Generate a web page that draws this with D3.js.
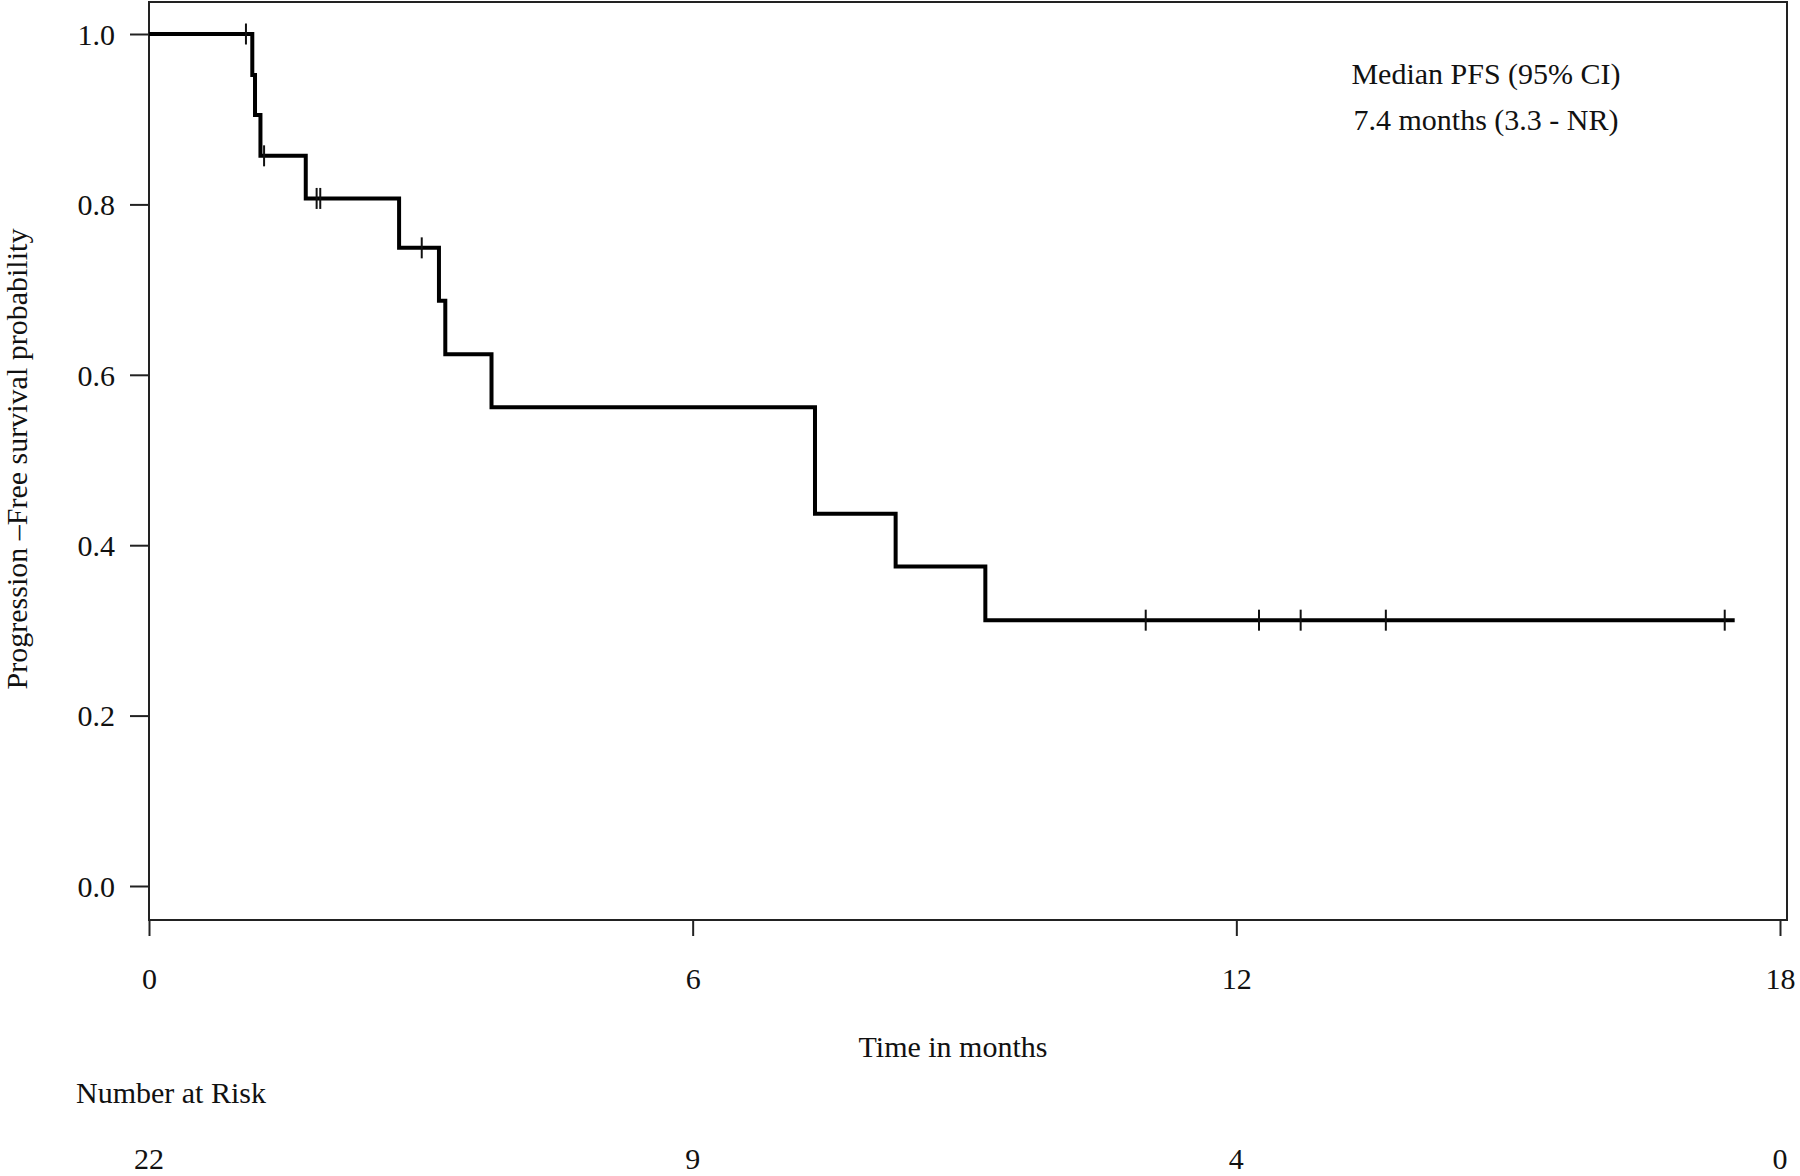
<!DOCTYPE html>
<html>
<head>
<meta charset="utf-8">
<script src="https://cdn.jsdelivr.net/npm/d3@7"></script>
<style>
  body { margin: 0; background: #fff; }
  text { font-family: "Liberation Serif", "Times New Roman", serif; fill: #111; }
</style>
</head>
<body>
<svg></svg>
<script>
const width = 1800
const height = 1176

// Kaplan-Meier steps (months, survival after the drop)
const eventTimes = [1.14, 1.17, 1.23, 1.73, 2.76, 3.20, 3.27, 3.78, 7.35, 8.24, 9.23]
const survival = [0.952, 0.905, 0.857, 0.807, 0.749, 0.687, 0.624, 0.562, 0.437, 0.375, 0.312]
const censorTimes = [1.07, 1.27, 1.85, 1.89, 3.01, 11.0, 12.25, 12.71, 13.65, 17.39]
const lastTime = 17.5

const xTicks = [0, 6, 12, 18]
const yTicks = [0, 0.2, 0.4, 0.6, 0.8, 1.0]
const riskTimes = [0, 6, 12, 18]
const atRisk = [22, 9, 4, 0]

const svg = d3.select("svg")
    .attr("width", width)
    .attr("height", height)

const xScale = d3.scaleLinear().domain([0, 18]).range([149, 1780])
const yScale = d3.scaleLinear().domain([0, 1]).range([886, 34])

// plot box
const box = { left: xScale(0), right: xScale(18) + 7, top: 2, bottom: 920 }
svg.append("rect")
    .attr("x", box.left)
    .attr("y", box.top)
    .attr("width", box.right - box.left)
    .attr("height", box.bottom - box.top)
    .attr("fill", "none")
    .attr("stroke", "#222")
    .attr("stroke-width", 2)

// y axis
const yAxisG = svg.append("g")
    .attr("transform", `translate(${box.left}, 0)`)
    .call(d3.axisLeft(yScale).tickValues(yTicks).tickFormat(d3.format(".1f")).tickSize(19).tickPadding(15))
yAxisG.select(".domain").remove()
yAxisG.selectAll(".tick line").attr("stroke", "#222").attr("stroke-width", 2)
yAxisG.selectAll(".tick text")
    .attr("font-size", "30px")
    .attr("font-family", "Liberation Serif")
    .attr("fill", "#111")
    .attr("dy", "0.34em")

// x axis
const xAxisG = svg.append("g")
    .attr("transform", `translate(0, ${box.bottom})`)
    .call(d3.axisBottom(xScale).tickValues(xTicks).tickSize(16))
xAxisG.select(".domain").remove()
xAxisG.selectAll(".tick line").attr("stroke", "#222").attr("stroke-width", 2)
xAxisG.selectAll(".tick text")
    .attr("font-size", "30px")
    .attr("font-family", "Liberation Serif")
    .attr("fill", "#111")
    .attr("dy", null)
    .attr("y", 69)

// curve
const points = [[0, 1]].concat(eventTimes.map((t, i) => [t, survival[i]]))
points.push([lastTime, survival[survival.length - 1]])

const line = d3.line()
    .x(d => xScale(d[0]))
    .y(d => yScale(d[1]))
    .curve(d3.curveStepAfter)

svg.append("path")
    .attr("d", line(points))
    .attr("fill", "none")
    .attr("stroke", "#000")
    .attr("stroke-width", 4)

// survival at time t (step function)
const survAt = t => {
    let s = 1
    eventTimes.forEach((e, i) => { if (e <= t) s = survival[i] })
    return s
}

svg.selectAll(".censor").data(censorTimes)
    .enter()
    .append("line")
    .attr("class", "censor")
    .attr("x1", d => xScale(d))
    .attr("x2", d => xScale(d))
    .attr("y1", d => yScale(survAt(d)) - 10.5)
    .attr("y2", d => yScale(survAt(d)) + 10.5)
    .attr("stroke", "#111")
    .attr("stroke-width", 2)

// labels
svg.append("text")
    .attr("transform", "translate(27, 459) rotate(-90)")
    .attr("text-anchor", "middle")
    .attr("font-size", "30px")
    .text("Progression \u2013Free survival probability")

svg.append("text")
    .attr("x", 953)
    .attr("y", 1057)
    .attr("text-anchor", "middle")
    .attr("font-size", "30px")
    .text("Time in months")

svg.append("text")
    .attr("x", 1486)
    .attr("y", 84)
    .attr("text-anchor", "middle")
    .attr("font-size", "30px")
    .text("Median PFS (95% CI)")

svg.append("text")
    .attr("x", 1486)
    .attr("y", 130)
    .attr("text-anchor", "middle")
    .attr("font-size", "30px")
    .text("7.4 months (3.3 - NR)")

// number at risk table
svg.append("text")
    .attr("x", 76)
    .attr("y", 1103)
    .attr("font-size", "30px")
    .text("Number at Risk")

svg.selectAll(".risk").data(riskTimes)
    .enter()
    .append("text")
    .attr("class", "risk")
    .attr("x", d => xScale(d))
    .attr("y", 1169)
    .attr("text-anchor", "middle")
    .attr("font-size", "30px")
    .text((d, i) => atRisk[i])
</script>
</body>
</html>
